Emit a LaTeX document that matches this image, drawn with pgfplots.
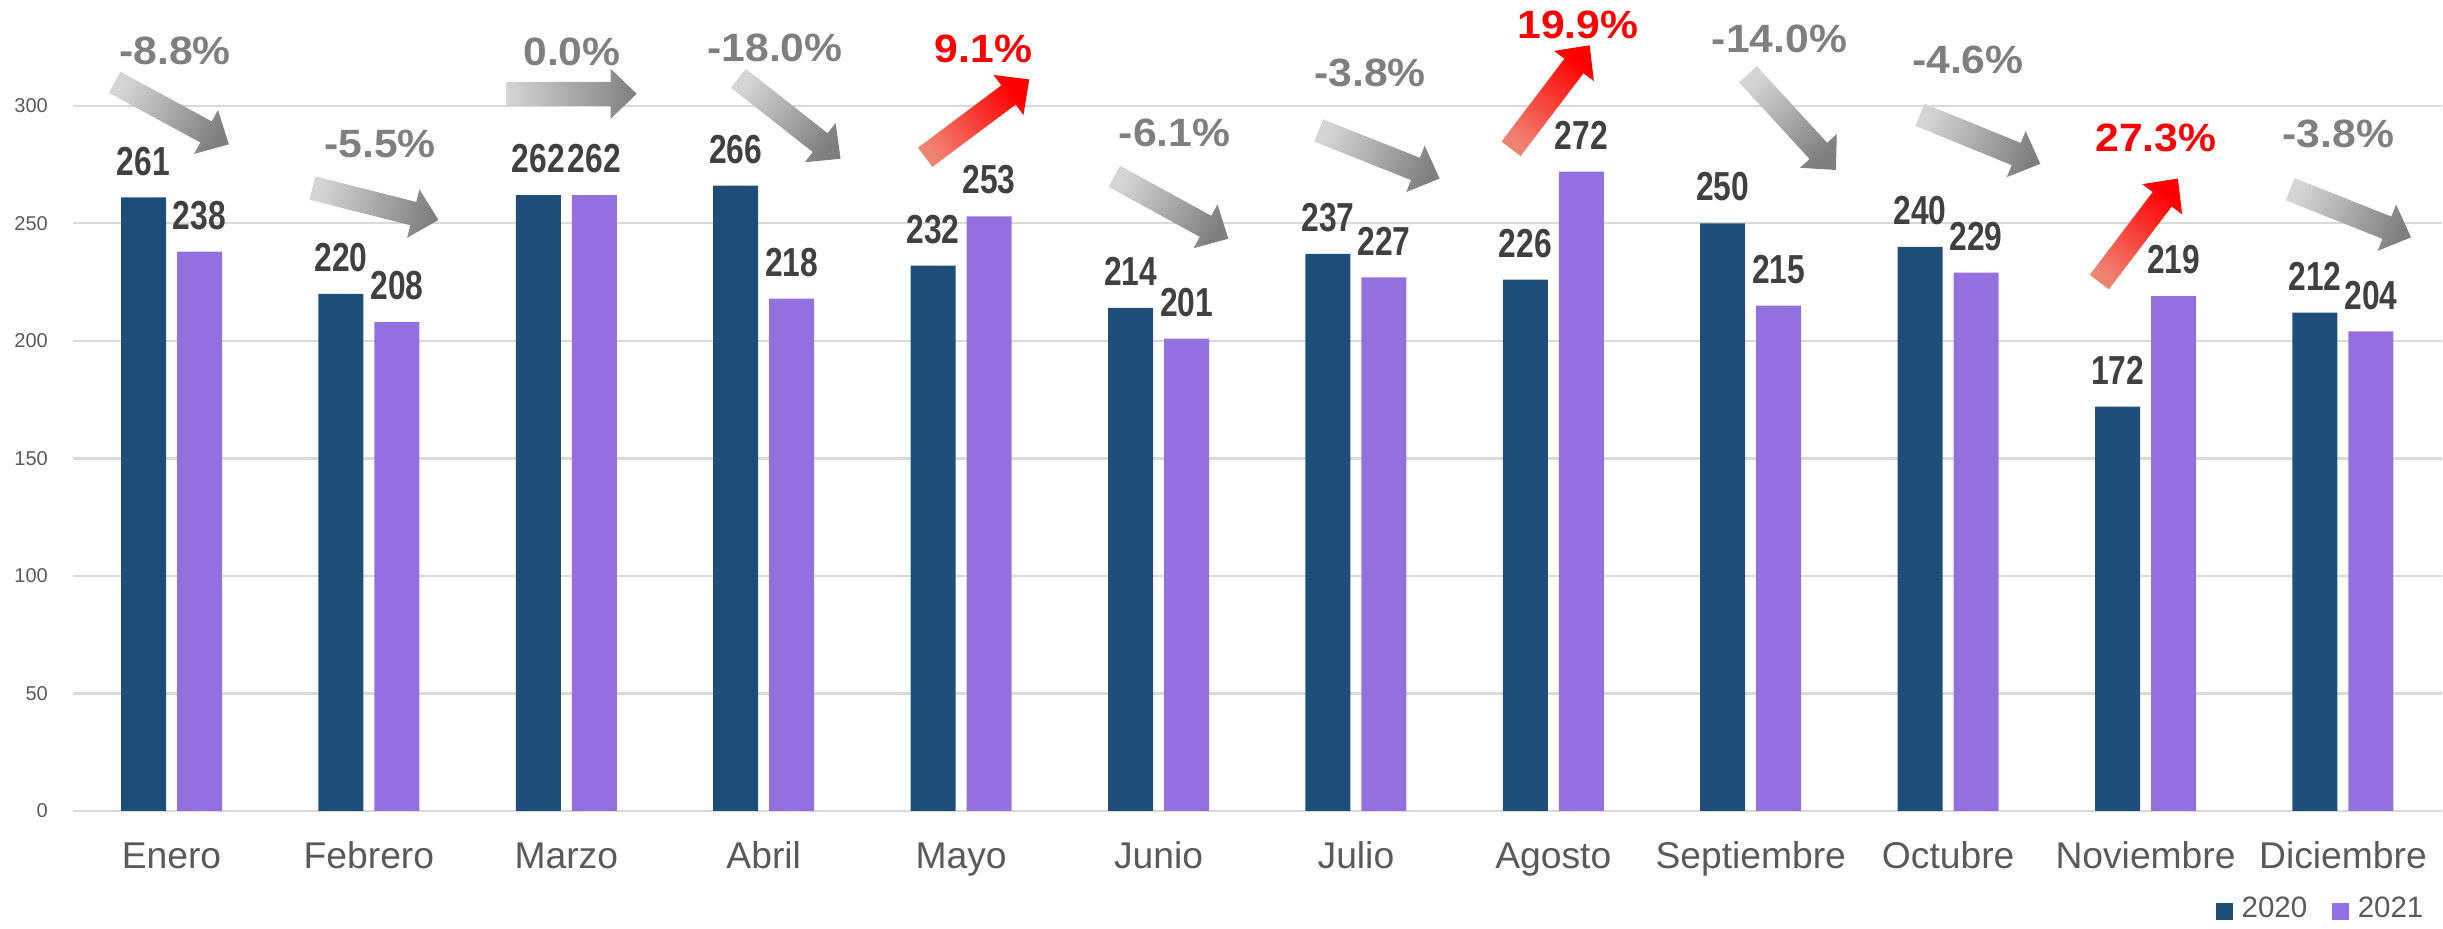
\documentclass[border=0pt]{standalone}
\usepackage{fontspec}
\setmainfont{Liberation Sans}
\newfontfamily\lblfont{Liberation Sans}[FakeStretch=0.785]
\newfontfamily\pctfont{Liberation Sans}[FakeStretch=1.08]
\usepackage{pgfplots}
\pgfplotsset{compat=1.18}

\definecolor{c2020}{HTML}{1F4E79}
\definecolor{c2021}{HTML}{9370DE}
\definecolor{gridc}{HTML}{D9D9D9}
\definecolor{txt}{HTML}{595959}
\definecolor{lbl}{HTML}{404040}
\definecolor{pctg}{HTML}{7F7F7F}
\definecolor{pctr}{HTML}{FF0000}
\definecolor{argl}{HTML}{D4D4D4}
\definecolor{argd}{HTML}{7F7F7F}
\definecolor{arrl}{HTML}{F08272}
\definecolor{arrd}{HTML}{FF0000}

% trend arrow: tail x, tail y (axis cs), angle, tail colour, head colour
\newcommand{\trendarrow}[5]{%
  \shade[shift={(axis cs:#1,#2)}, rotate=#3, shading=axis,
    bottom color=#4, top color=#5, shading angle=#3-90]
    (0pt,-2.4pt) -- (20.8pt,-2.4pt) -- (20.8pt,-5pt) -- (26pt,0pt)
    -- (20.8pt,5pt) -- (20.8pt,2.4pt) -- (0pt,2.4pt) -- cycle;}
% percentage label: x, y (baseline), colour, text
\newcommand{\pct}[4]{%
  \node[anchor=base, inner sep=0pt, text=#3,
    font={\pctfont\bfseries\fontsize{7.9}{9}\selectfont}] at (axis cs:#1,#2) {#4};}

\begin{document}
\begin{tikzpicture}
\begin{axis}[
    scale only axis, width=473.8pt, height=162.1pt,
    xmin=-0.5, xmax=11.5, ymin=0, ymax=344.8,
    clip=false,
    ybar=2.2pt, bar width=9pt,
    axis line style={draw=none},
    major tick length=0pt,
    ytick={0,50,...,300},
    ymajorgrids, grid style={gridc, line width=0.45pt},
    xtick={0,...,11},
    xticklabels={Enero,Febrero,Marzo,Abril,Mayo,Junio,Julio,Agosto,Septiembre,Octubre,Noviembre,Diciembre},
    xticklabel style={font=\fontsize{7.45}{9}\selectfont, text=txt, anchor=base, inner sep=0pt, yshift=-11.5pt},
    yticklabel style={font=\fontsize{4}{5}\selectfont, text=txt, anchor=east, inner sep=0pt, xshift=-4.8pt},
    /pgf/number format/assume math mode=true,
    nodes near coords,
    every node near coord/.append style={font={\lblfont\bfseries\fontsize{8.1}{9}\selectfont},
      text=lbl, inner sep=0pt, anchor=south, yshift=4.2pt},
    legend columns=2,
    legend style={at={(0.9923,-0.1401)}, anchor=south east, draw=none, fill=none,
      font=\fontsize{5.9}{7}\selectfont, text=txt, inner sep=0pt, outer sep=0pt,
      nodes={inner sep=0pt}, column sep=1.7pt,
      /tikz/every even column/.append style={column sep=5pt}},
    legend image code/.code={\fill[#1] (0pt,-1.9pt) rectangle (3.4pt,1.5pt);},
  ]
  \addplot[fill=c2020, draw=none] coordinates {
    (0,261) (1,220) (2,262) (3,266) (4,232) (5,214)
    (6,237) (7,226) (8,250) (9,240) (10,172) (11,212)};
  \addlegendentry{2020}
  \addplot[fill=c2021, draw=none] coordinates {
    (0,238) (1,208) (2,262) (3,218) (4,253) (5,201)
    (6,227) (7,272) (8,215) (9,229) (10,219) (11,204)};
  \addlegendentry{2021}

  \trendarrow{-0.288}{310.0}{-28.5}{argl}{argd}
  \trendarrow{0.714}{265.0}{-14.2}{argl}{argd}
  \trendarrow{1.698}{305.1}{0}{argl}{argd}
  \trendarrow{2.872}{311.7}{-38.2}{argl}{argd}
  \trendarrow{3.818}{278.1}{36.8}{arrl}{arrd}
  \trendarrow{4.776}{270.0}{-28.7}{argl}{argd}
  \trendarrow{5.812}{289.5}{-21.7}{argl}{argd}
  \trendarrow{6.786}{281.7}{52.8}{arrl}{arrd}
  \trendarrow{7.986}{313.4}{-47.4}{argl}{argd}
  \trendarrow{8.857}{296.2}{-22.2}{argl}{argd}
  \trendarrow{9.766}{225.0}{52.8}{arrl}{arrd}
  \trendarrow{10.733}{264.5}{-21.7}{argl}{argd}

  \pct{0.018}{317.4}{pctg}{-8.8\%}
  \pct{1.056}{278.1}{pctg}{-5.5\%}
  \pct{2.029}{317.1}{pctg}{0.0\%}
  \pct{3.057}{318.8}{pctg}{-18.0\%}
  \pct{4.113}{318.5}{pctr}{9.1\%}
  \pct{5.082}{282.8}{pctg}{-6.1\%}
  \pct{6.071}{308.2}{pctg}{-3.8\%}
  \pct{7.125}{328.8}{pctr}{19.9\%}
  \pct{8.146}{322.5}{pctg}{-14.0\%}
  \pct{9.100}{313.9}{pctg}{-4.6\%}
  \pct{10.052}{280.7}{pctr}{27.3\%}
  \pct{10.977}{282.4}{pctg}{-3.8\%}

  \path (axis cs:-0.8688,344.8) rectangle (axis cs:11.507,-49.99);
\end{axis}
\end{tikzpicture}
\end{document}
